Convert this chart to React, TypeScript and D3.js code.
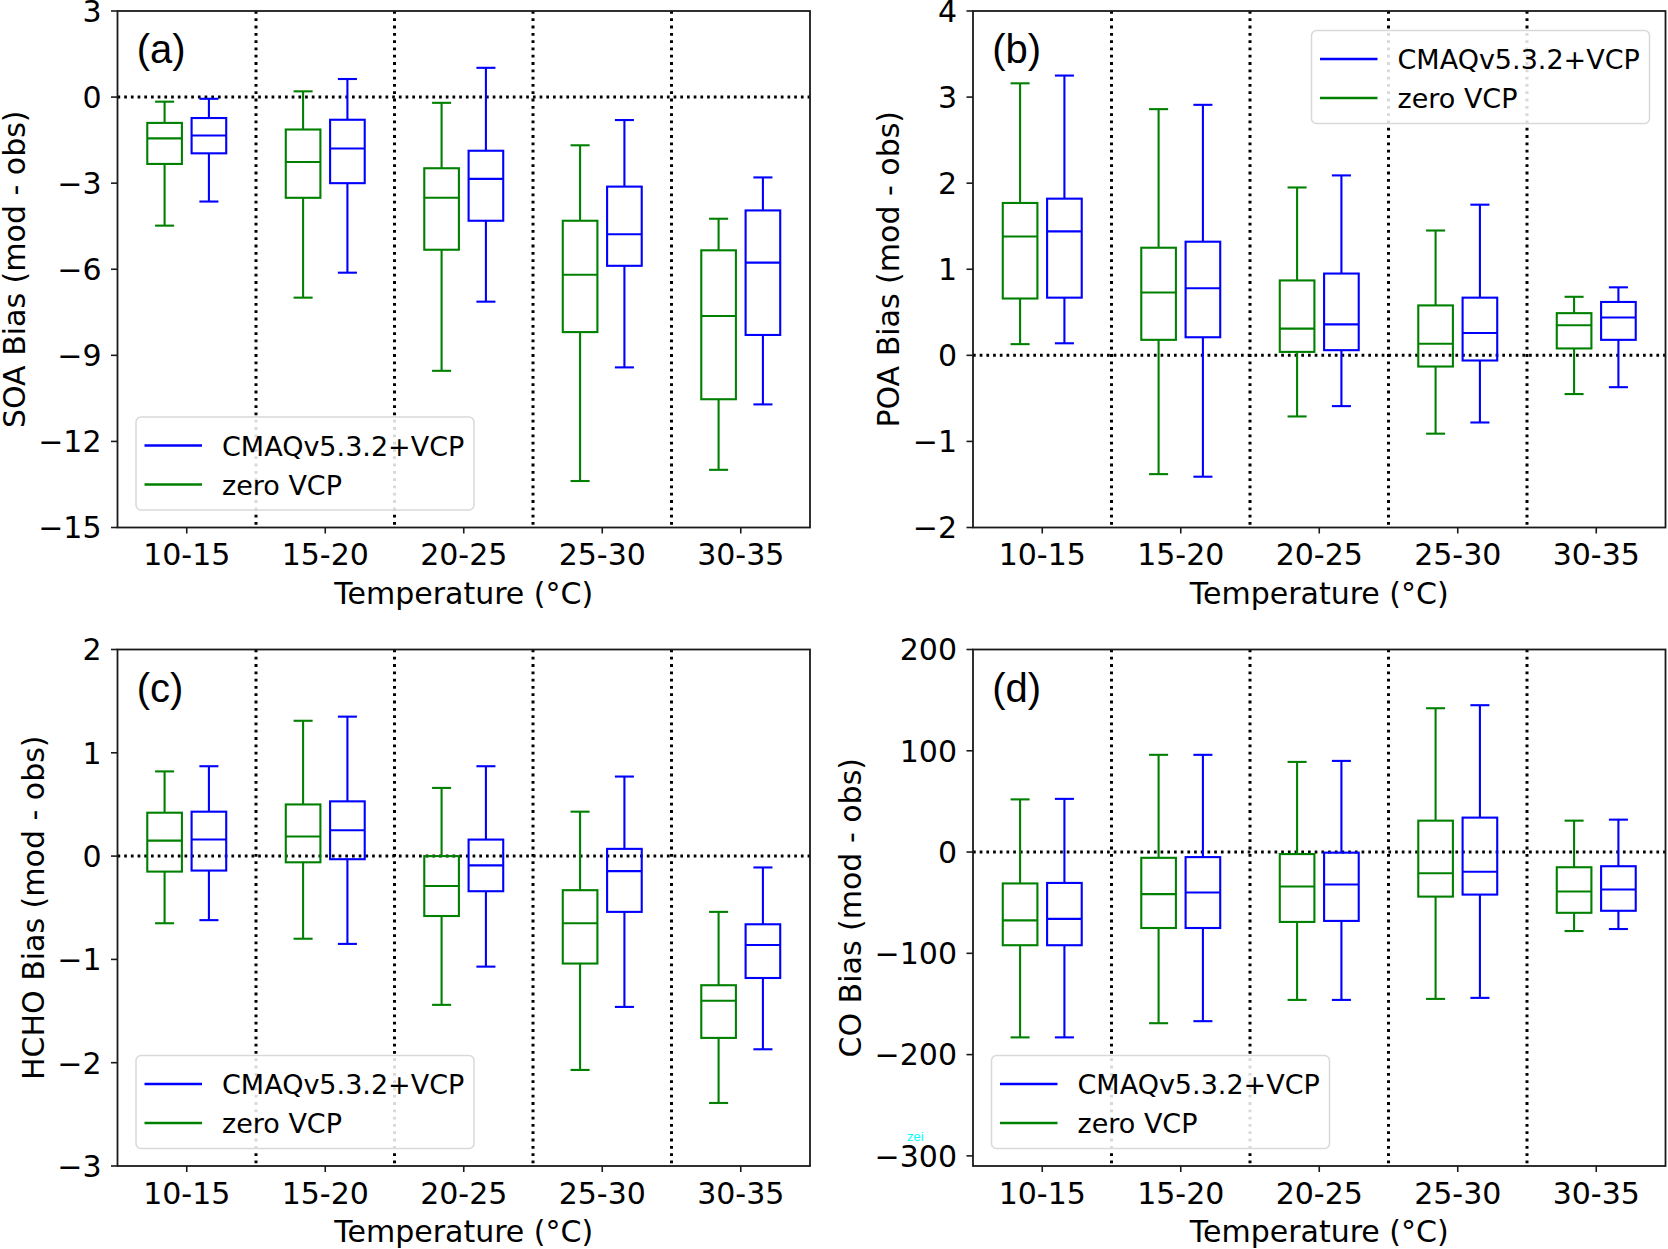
import React from 'react';
import * as d3 from 'd3';

const categories = ['10-15', '15-20', '20-25', '25-30', '30-35'];
const seriesNames = ['CMAQv5.3.2+VCP', 'zero VCP'];
const vcpColor = '#0000ff';
const zeroColor = '#008000';

// each entry: [lower whisker, Q1, median, Q3, upper whisker]
const soaVCP = [
  [-3.64, -1.96, -1.34, -0.73, -0.06],
  [-6.12, -3.0, -1.79, -0.79, 0.63],
  [-7.13, -4.31, -2.85, -1.87, 1.02],
  [-9.42, -5.88, -4.78, -3.12, -0.8],
  [-10.71, -8.29, -5.77, -3.95, -2.8],
];
const soaZero = [
  [-4.48, -2.33, -1.44, -0.9, -0.16],
  [-6.99, -3.51, -2.26, -1.13, 0.2],
  [-9.54, -5.32, -3.51, -2.48, -0.2],
  [-13.38, -8.19, -6.19, -4.31, -1.68],
  [-12.99, -10.53, -7.63, -5.34, -4.24],
];
const poaVCP = [
  [0.14, 0.67, 1.44, 1.82, 3.25],
  [-1.41, 0.21, 0.78, 1.32, 2.91],
  [-0.59, 0.06, 0.36, 0.95, 2.09],
  [-0.78, -0.06, 0.26, 0.67, 1.75],
  [-0.37, 0.18, 0.44, 0.62, 0.79],
];
const poaZero = [
  [0.13, 0.66, 1.38, 1.77, 3.16],
  [-1.38, 0.18, 0.73, 1.25, 2.86],
  [-0.71, 0.04, 0.31, 0.87, 1.95],
  [-0.91, -0.13, 0.135, 0.58, 1.45],
  [-0.45, 0.08, 0.35, 0.49, 0.68],
];
const hchoVCP = [
  [-0.62, -0.14, 0.16, 0.43, 0.87],
  [-0.85, -0.03, 0.25, 0.53, 1.35],
  [-1.07, -0.34, -0.09, 0.16, 0.87],
  [-1.46, -0.54, -0.145, 0.07, 0.77],
  [-1.87, -1.18, -0.86, -0.66, -0.11],
];
const hchoZero = [
  [-0.65, -0.15, 0.15, 0.42, 0.82],
  [-0.8, -0.06, 0.19, 0.5, 1.31],
  [-1.44, -0.58, -0.29, 0.0, 0.66],
  [-2.07, -1.04, -0.65, -0.33, 0.43],
  [-2.39, -1.76, -1.4, -1.25, -0.54],
];
const coVCP = [
  [-183, -92, -66, -30.5, 52.5],
  [-167, -75, -40, -5, 96],
  [-146, -68, -32, -0.6, 90],
  [-144, -42, -19.5, 34, 145],
  [-76, -58, -37, -14, 32],
];
const coZero = [
  [-183, -92, -67.5, -31, 52],
  [-169, -75, -41.5, -5.7, 96],
  [-146, -69, -34, -2, 89],
  [-145, -44, -21, 31, 142],
  [-78, -60, -39, -15, 31],
];

const soaTicks = [3, 0, -3, -6, -9, -12, -15];
const poaTicks = [4, 3, 2, 1, 0, -1, -2];
const hchoTicks = [2, 1, 0, -1, -2, -3];
const coTicks = [200, 100, 0, -100, -200, -300];

const W = 1668;
const H = 1249;
const PW = 692.5;
const PH = 516.5;
const FONT = 'DejaVu Sans, sans-serif';

const panels = [
  { tag: '(a)', ylabel: 'SOA Bias (mod - obs)', domain: [-15, 3], ticks: soaTicks, vcp: soaVCP, zero: soaZero, legend: 'bl', x0: 117.5, y0: 11, ylabOff: 92.5 },
  { tag: '(b)', ylabel: 'POA Bias (mod - obs)', domain: [-2, 4], ticks: poaTicks, vcp: poaVCP, zero: poaZero, legend: 'tr', x0: 973, y0: 11, ylabOff: 74 },
  { tag: '(c)', ylabel: 'HCHO Bias (mod - obs)', domain: [-3, 2], ticks: hchoTicks, vcp: hchoVCP, zero: hchoZero, legend: 'bl', x0: 117.5, y0: 649.5, ylabOff: 73.5 },
  { tag: '(d)', ylabel: 'CO Bias (mod - obs)', domain: [-310, 200], ticks: coTicks, vcp: coVCP, zero: coZero, legend: 'bl', x0: 973, y0: 649.5, ylabOff: 112 },
];

const fmt = (v: number) => (v < 0 ? '\u2212' + Math.abs(v) : String(v));

function Box({ x, stats, y, color, bw }: any) {
  const [lo, q1, med, q3, hi] = stats;
  const cw = bw * 0.55;
  return (
    <g stroke={color} strokeWidth={2.1} fill="none">
      <line x1={x} x2={x} y1={y(q3)} y2={y(hi)} />
      <line x1={x} x2={x} y1={y(q1)} y2={y(lo)} />
      <line x1={x - cw / 2} x2={x + cw / 2} y1={y(hi)} y2={y(hi)} />
      <line x1={x - cw / 2} x2={x + cw / 2} y1={y(lo)} y2={y(lo)} />
      <rect x={x - bw / 2} y={y(q3)} width={bw} height={y(q1) - y(q3)} />
      <line x1={x - bw / 2} x2={x + bw / 2} y1={y(med)} y2={y(med)} />
    </g>
  );
}

function Panel({ p }: any) {
  const x0 = p.x0, y0 = p.y0, x1 = x0 + PW, y1 = y0 + PH;
  const x = d3.scaleLinear().domain([0.5, categories.length + 0.5]).range([x0, x1]);
  const y = d3.scaleLinear().domain(p.domain).range([y1, y0]);
  const off = 0.16;
  const bw = x(0.25) - x(0);
  const lw = 338, lh = 93;
  const lx = p.legend === 'tr' ? x1 - 16 - lw : x0 + 18.5;
  const ly = p.legend === 'tr' ? y0 + 19.5 : y1 - 17.5 - lh;
  return (
    <g>
      {/* separators */}
      {categories.slice(1).map((_, i) => (
        <line key={'v' + i} x1={x(i + 1.5)} x2={x(i + 1.5)} y1={y0} y2={y1} stroke="#000" strokeWidth={3} strokeDasharray="2.8 4.5" />
      ))}
      <line x1={x0} x2={x1} y1={y(0)} y2={y(0)} stroke="#000" strokeWidth={3} strokeDasharray="2.7 4" />
      {/* boxes */}
      {categories.map((c, i) => (
        <g key={c}>
          <Box x={x(i + 1 - off)} stats={p.zero[i]} y={y} color={zeroColor} bw={bw} />
          <Box x={x(i + 1 + off)} stats={p.vcp[i]} y={y} color={vcpColor} bw={bw} />
        </g>
      ))}
      {/* legend */}
      <rect x={lx} y={ly} width={lw} height={lh} rx={5} fill="#fff" fillOpacity={0.85} stroke="#d9d9d9" strokeWidth={1.5} />
      {seriesNames.map((s, i) => {
        const yy = ly + 28.5 + i * 39;
        return (
          <g key={s}>
            <line x1={lx + 8.5} x2={lx + 66} y1={yy} y2={yy} stroke={i === 0 ? vcpColor : zeroColor} strokeWidth={2.6} />
            <text x={lx + 86} y={yy + 10} fontFamily={FONT} fontSize={27} fill="#000">{s}</text>
          </g>
        );
      })}
      {/* frame */}
      <rect x={x0} y={y0} width={PW} height={PH} fill="none" stroke="#1a1a1a" strokeWidth={1.8} />
      {/* y ticks */}
      {p.ticks.map((t: number) => (
        <g key={'y' + t}>
          <line x1={x0 - 6.5} x2={x0} y1={y(t)} y2={y(t)} stroke="#1a1a1a" strokeWidth={1.6} />
          <text x={x0 - 16} y={y(t)} dy="0.36em" textAnchor="end" fontFamily={FONT} fontSize={30} fill="#000">{fmt(t)}</text>
        </g>
      ))}
      {/* x ticks */}
      {categories.map((c, i) => (
        <g key={'x' + c}>
          <line x1={x(i + 1)} x2={x(i + 1)} y1={y1} y2={y1 + 6} stroke="#1a1a1a" strokeWidth={1.6} />
          <text x={x(i + 1)} y={y1 + 37.5} textAnchor="middle" fontFamily={FONT} fontSize={30} fill="#000">{c}</text>
        </g>
      ))}
      <text x={(x0 + x1) / 2} y={y1 + 76} textAnchor="middle" fontFamily={FONT} fontSize={30} fill="#000">Temperature (°C)</text>
      <text transform={`translate(${x0 - p.ylabOff},${(y0 + y1) / 2}) rotate(-90)`} textAnchor="middle" fontFamily={FONT} fontSize={30} fill="#000">{p.ylabel}</text>
      <text x={x0 + 19.2} y={y0 + 52.3} fontFamily="Liberation Sans, Arial, sans-serif" fontSize={40} fill="#000">{p.tag}</text>
    </g>
  );
}

export default function App() {
  return (
    <svg width={W} height={H} viewBox={`0 0 ${W} ${H}`} style={{ position: 'absolute', left: 0, top: 0, background: '#fff' }}>
      <rect x={0} y={0} width={W} height={H} fill="#fff" />
      {panels.map((p) => (
        <Panel key={p.tag} p={p} />
      ))}
      <text x={907} y={1141} fontFamily="Liberation Sans, Arial, sans-serif" fontSize={13} fill="#00ffff">zei</text>
    </svg>
  );
}
